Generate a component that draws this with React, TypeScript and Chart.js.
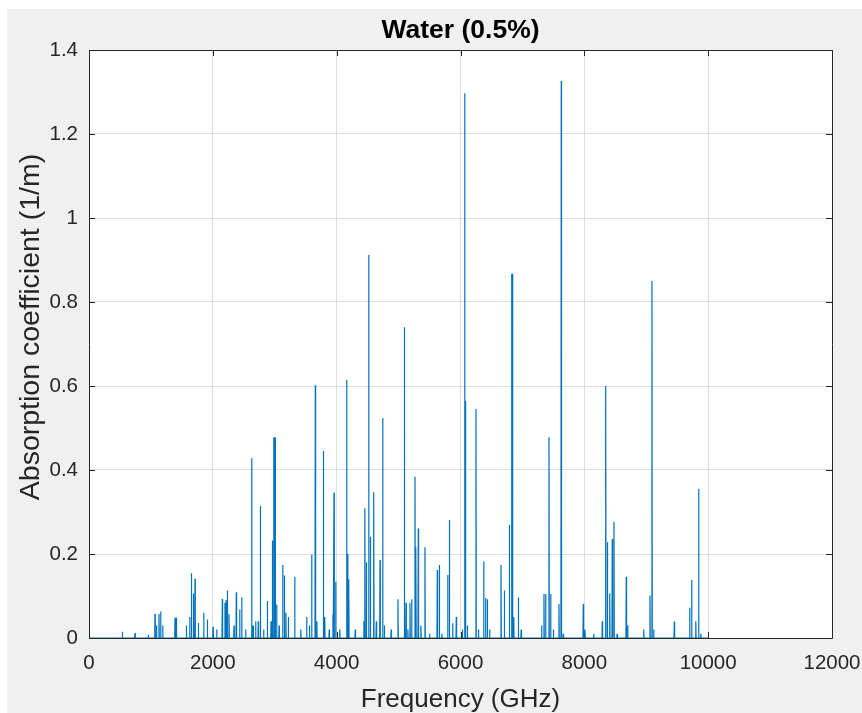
import { useEffect, useRef } from 'react';
import { Chart, registerables } from 'chart.js';

Chart.register(...registerables);

const CHART_TITLE = 'Water (0.5%)';
const X_LABEL = 'Frequency (GHz)';
const Y_LABEL = 'Absorption coefficient (1/m)';

const xTickValues = [0, 2000, 4000, 6000, 8000, 10000, 12000];
const xTickLabels = ['0', '2000', '4000', '6000', '8000', '10000', '12000'];
const yTickValues = [0, 0.2, 0.4, 0.6, 0.8, 1, 1.2, 1.4];
const yTickLabels = ['0', '0.2', '0.4', '0.6', '0.8', '1', '1.2', '1.4'];

// Frequency range covered by the computed spectrum (GHz)
const spectrumStart = 0;
const spectrumEnd = 10000;

// Absorption line centres (GHz)
const lineFrequencies = [
  538, 743, 958, 1066, 1090, 1130, 1157, 1190, 1389, 1411,
  1572, 1626, 1653, 1685, 1712, 1766, 1852, 1911, 2003, 2062,
  2153, 2196, 2215, 2234, 2261, 2342, 2379, 2433, 2466, 2530,
  2627, 2650, 2691, 2734, 2767, 2820, 2880, 2940, 2961, 2985,
  3005, 3030, 3070, 3128, 3155, 3180, 3219, 3322, 3420, 3515,
  3560, 3596, 3655, 3680, 3785, 3807, 3880, 3940, 3957, 3984,
  4050, 4161, 4178, 4195, 4300, 4440, 4457, 4480, 4517, 4544,
  4598, 4640, 4700, 4743, 4770, 4880, 4990, 5093, 5120, 5150,
  5184, 5211, 5265, 5280, 5318, 5360, 5426, 5500, 5625, 5658,
  5700, 5793, 5820, 5873, 5932, 6030, 6067, 6080, 6110, 6250,
  6290, 6374, 6405, 6433, 6470, 6654, 6708, 6789, 6825, 6840,
  6860, 6934, 6980, 7310, 7348, 7375, 7429, 7456, 7500, 7590,
  7627, 7660, 7983, 8010, 8150, 8290, 8345, 8372, 8410, 8451,
  8479, 8530, 8677, 8700, 8960, 9060, 9092, 9120, 9453, 9701,
  9733, 9800, 9846, 9880,
];

// Peak absorption coefficient of each line (1/m)
const lineAbsorption = [
  0.015, 0.012, 0.007, 0.057, 0.03, 0.057, 0.063, 0.03, 0.048, 0.048,
  0.03, 0.05, 0.154, 0.106, 0.141, 0.036, 0.06, 0.044, 0.027, 0.02,
  0.093, 0.084, 0.09, 0.113, 0.057, 0.03, 0.109, 0.068, 0.097, 0.02,
  0.428, 0.03, 0.04, 0.04, 0.314, 0.02, 0.088, 0.04, 0.232, 0.478,
  0.478, 0.08, 0.03, 0.174, 0.149, 0.06, 0.05, 0.146, 0.02, 0.05,
  0.03, 0.199, 0.602, 0.04, 0.445, 0.05, 0.02, 0.056, 0.346, 0.134,
  0.02, 0.614, 0.2, 0.14, 0.02, 0.04, 0.309, 0.18, 0.912, 0.241,
  0.347, 0.04, 0.186, 0.524, 0.03, 0.02, 0.092, 0.74, 0.084, 0.02,
  0.084, 0.092, 0.384, 0.216, 0.261, 0.03, 0.216, 0.01, 0.162, 0.174,
  0.01, 0.15, 0.281, 0.035, 0.05, 0.02, 1.297, 0.564, 0.03, 0.545,
  0.02, 0.182, 0.095, 0.092, 0.02, 0.174, 0.113, 0.269, 0.867, 0.867,
  0.05, 0.097, 0.02, 0.03, 0.105, 0.105, 0.478, 0.105, 0.02, 0.081,
  1.326, 0.01, 0.081, 0.02, 0.01, 0.04, 0.6, 0.228, 0.106, 0.236,
  0.277, 0.01, 0.146, 0.03, 0.02, 0.101, 0.85, 0.02, 0.039, 0.072,
  0.138, 0.04, 0.355, 0.01,
];

// Half width of each line at its base (GHz)
const LINE_HALF_WIDTH = 5;

const FONT_FAMILY = '"Liberation Sans", Arial, Helvetica, sans-serif';
const AXIS_COLOR = '#262626';
const GRID_COLOR = '#dedede';
const LINE_COLOR = '#0072BD';

type Pt = { x: number; y: number };

function buildSpectrum(): Pt[] {
  const order = lineFrequencies
    .map((_, i) => i)
    .sort((a, b) => lineFrequencies[a] - lineFrequencies[b]);
  const pts: Pt[] = [{ x: spectrumStart, y: 0 }];
  for (const i of order) {
    const f = lineFrequencies[i];
    pts.push({ x: f - LINE_HALF_WIDTH, y: 0 });
    pts.push({ x: f, y: lineAbsorption[i] });
    pts.push({ x: f + LINE_HALF_WIDTH, y: 0 });
  }
  pts.push({ x: spectrumEnd, y: 0 });
  return pts;
}

// White plot area, box with inward tick marks, title and y-axis label
const axesDecorPlugin = {
  id: 'axesDecor',
  beforeDraw(chart: any) {
    const { ctx, chartArea } = chart;
    ctx.save();
    ctx.fillStyle = '#ffffff';
    ctx.fillRect(chartArea.left, chartArea.top, chartArea.right - chartArea.left, chartArea.bottom - chartArea.top);
    ctx.restore();
  },
  beforeDatasetsDraw(chart: any) {
    const { ctx, chartArea } = chart;
    const { left, right, top, bottom } = chartArea;
    const xs = chart.scales.x;
    const ys = chart.scales.y;
    const len = 6;
    ctx.save();
    ctx.strokeStyle = AXIS_COLOR;
    ctx.lineWidth = 1;
    ctx.beginPath();
    ctx.rect(Math.round(left) + 0.5, Math.round(top) + 0.5, Math.round(right - left), Math.round(bottom - top));
    for (const v of xTickValues) {
      const px = Math.round(xs.getPixelForValue(v)) + 0.5;
      ctx.moveTo(px, bottom);
      ctx.lineTo(px, bottom - len);
      ctx.moveTo(px, top);
      ctx.lineTo(px, top + len);
    }
    for (const v of yTickValues) {
      const py = Math.round(ys.getPixelForValue(v)) + 0.5;
      ctx.moveTo(left, py);
      ctx.lineTo(left + len, py);
      ctx.moveTo(right, py);
      ctx.lineTo(right - len, py);
    }
    ctx.stroke();
    ctx.restore();
  },
  afterDraw(chart: any) {
    const { ctx, chartArea } = chart;
    ctx.save();
    ctx.fillStyle = '#000000';
    ctx.font = `bold 26.5px ${FONT_FAMILY}`;
    ctx.textAlign = 'center';
    ctx.textBaseline = 'middle';
    ctx.fillText(CHART_TITLE, (chartArea.left + chartArea.right) / 2, 22);
    ctx.restore();

    ctx.save();
    ctx.fillStyle = AXIS_COLOR;
    ctx.font = `28.5px ${FONT_FAMILY}`;
    ctx.textAlign = 'center';
    ctx.textBaseline = 'middle';
    ctx.translate(24, 318);
    ctx.rotate(-Math.PI / 2);
    ctx.fillText(Y_LABEL, 0, 0);
    ctx.restore();
  },
};

export default function App() {
  const canvasRef = useRef<HTMLCanvasElement>(null);

  useEffect(() => {
    const canvas = canvasRef.current;
    if (!canvas) return;
    const chart = new Chart(canvas, {
      type: 'line',
      data: {
        datasets: [
          {
            data: buildSpectrum(),
            borderColor: LINE_COLOR,
            borderWidth: 1.2,
            pointRadius: 0,
            pointHoverRadius: 0,
            fill: false,
            tension: 0,
          },
        ],
      },
      options: {
        responsive: false,
        animation: false,
        events: [],
        layout: { padding: { top: 41, right: 30, left: 0, bottom: 0 } },
        plugins: {
          legend: { display: false },
          title: { display: false },
          tooltip: { enabled: false },
        },
        scales: {
          x: {
            type: 'linear',
            min: 0,
            max: 12000,
            afterBuildTicks: (scale: any) => {
              scale.ticks = xTickValues.map((v) => ({ value: v }));
            },
            afterFit: (scale: any) => {
              scale.height = 75;
              scale.paddingLeft = 0;
              scale.paddingRight = 0;
            },
            ticks: {
              callback: (_v: any, i: number) => xTickLabels[i],
              color: AXIS_COLOR,
              font: { family: FONT_FAMILY, size: 20.5 },
              padding: 13,
              maxRotation: 0,
              autoSkip: false,
            },
            grid: { color: GRID_COLOR, drawTicks: false, lineWidth: 1 },
            border: { display: false },
            title: {
              display: true,
              text: X_LABEL,
              color: AXIS_COLOR,
              font: { family: FONT_FAMILY, size: 26, lineHeight: 1 },
              padding: { top: 0, bottom: 0 },
            },
          },
          y: {
            type: 'linear',
            min: 0,
            max: 1.4,
            afterBuildTicks: (scale: any) => {
              scale.ticks = yTickValues.map((v) => ({ value: v }));
            },
            afterFit: (scale: any) => {
              scale.width = 82;
              scale.paddingTop = 0;
              scale.paddingBottom = 0;
            },
            ticks: {
              callback: (_v: any, i: number) => yTickLabels[i],
              color: AXIS_COLOR,
              font: { family: FONT_FAMILY, size: 20.5 },
              padding: 11,
              autoSkip: false,
            },
            grid: { color: GRID_COLOR, drawTicks: false, lineWidth: 1 },
            border: { display: false },
          },
        },
      },
      plugins: [axesDecorPlugin],
    });
    return () => chart.destroy();
  }, []);

  return (
    <div style={{ position: 'fixed', left: 0, top: 0, width: 862, height: 713, background: '#ffffff' }}>
      <div
        style={{
          position: 'absolute',
          left: 7,
          top: 9,
          width: 855,
          height: 704,
          background: '#f0f0f0',
        }}
      >
        <canvas ref={canvasRef} width={855} height={704} style={{ display: 'block' }} />
      </div>
    </div>
  );
}
